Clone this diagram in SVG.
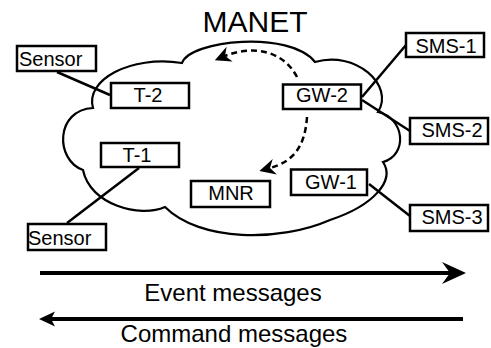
<svg xmlns="http://www.w3.org/2000/svg" width="491" height="348" viewBox="0 0 491 348">
<style>
.box{fill:#fff;stroke:#000;stroke-width:2.5}
.lbl{font-family:"Liberation Sans",Arial,sans-serif;font-size:20px;fill:#000}
.mid{text-anchor:middle}
.link{stroke:#000;stroke-width:2.5;fill:none}
.dash{stroke:#000;stroke-width:2.5;fill:none;stroke-dasharray:6 4}
.big{font-family:"Liberation Sans",Arial,sans-serif;fill:#000;text-anchor:middle}
</style>
<defs>
<marker id="dh" viewBox="0 -8 16 16" refX="5" refY="0" markerWidth="16" markerHeight="16" markerUnits="userSpaceOnUse" orient="auto">
<path d="M0,-8 L16,0 L0,8 L5,0 Z" fill="#000"/>
</marker>
<marker id="bh" viewBox="0 -11 24 22" refX="8" refY="0" markerWidth="24" markerHeight="22" markerUnits="userSpaceOnUse" orient="auto">
<path d="M0,-11 L24,0 L0,11 L8,0 Z" fill="#000"/>
</marker>
<marker id="sh" viewBox="0 -8 16 16" refX="4" refY="0" markerWidth="16" markerHeight="16" markerUnits="userSpaceOnUse" orient="auto">
<path d="M0,-7.5 L16,0 L0,7.5 L4,0 Z" fill="#000"/>
</marker>
</defs>
<rect width="491" height="348" fill="#fff"/>
<text class="big" x="255" y="32" font-size="30">MANET</text>
<g id="cloud">
<path d="M182,63 C190,40 290,30 315,62 C355,50 395,85 378,112 C405,118 408,155 383,162 C395,180 375,205 330,220 C280,242 200,242 165,207 C140,218 90,205 83,170 C55,160 55,110 93,108 C85,80 130,55 182,63 Z" fill="none" stroke="#000" stroke-width="2.2"/>
</g>
<g id="connectors">
<line class="link" x1="57" y1="72" x2="110" y2="95"/>
<line class="link" x1="139" y1="168" x2="67" y2="223"/>
<line class="link" x1="362" y1="97" x2="406" y2="45"/>
<line class="link" x1="362" y1="100" x2="410" y2="131"/>
<line class="link" x1="369" y1="184" x2="410" y2="216"/>
<path class="dash" d="M297,77 C283,50 252,45 225,56" marker-end="url(#dh)"/>
<path class="dash" d="M307,117 C305,148 292,162 270,168" marker-end="url(#dh)"/>
</g>
<g id="sensor1"><rect class="box" x="17" y="46" width="79" height="25"/><text class="lbl" x="19" y="66">Sensor</text></g>
<g id="sensor2"><rect class="box" x="28" y="224" width="78" height="26"/><text class="lbl" x="28" y="245">Sensor</text></g>
<g id="t2"><rect class="box" x="111" y="83" width="78" height="25"/><text class="lbl mid" x="148" y="102">T-2</text></g>
<g id="t1"><rect class="box" x="101" y="143" width="78" height="24"/><text class="lbl mid" x="137" y="162">T-1</text></g>
<g id="mnr"><rect class="box" x="191" y="181" width="79" height="26"/><text class="lbl mid" x="231" y="200">MNR</text></g>
<g id="gw2"><rect class="box" x="283" y="84.5" width="78" height="24.5"/><text class="lbl mid" x="322" y="102">GW-2</text></g>
<g id="gw1"><rect class="box" x="291" y="169.5" width="76" height="25.5"/><text class="lbl mid" x="331" y="189">GW-1</text></g>
<g id="sms1"><rect class="box" x="406" y="33" width="78" height="24"/><text class="lbl mid" x="446" y="53">SMS-1</text></g>
<g id="sms2"><rect class="box" x="410" y="118" width="78" height="26"/><text class="lbl mid" x="452" y="137">SMS-2</text></g>
<g id="sms3"><rect class="box" x="410" y="205" width="78" height="26"/><text class="lbl mid" x="452" y="224">SMS-3</text></g>
<g id="messages">
<path d="M40,273 H450" stroke="#000" stroke-width="4" fill="none" marker-end="url(#bh)"/>
<text class="big" x="233" y="301" font-size="24">Event messages</text>
<path d="M463,319 H51" stroke="#000" stroke-width="4" fill="none" marker-end="url(#sh)"/>
<text class="big" x="234" y="342" font-size="24">Command messages</text>
</g>
</svg>
